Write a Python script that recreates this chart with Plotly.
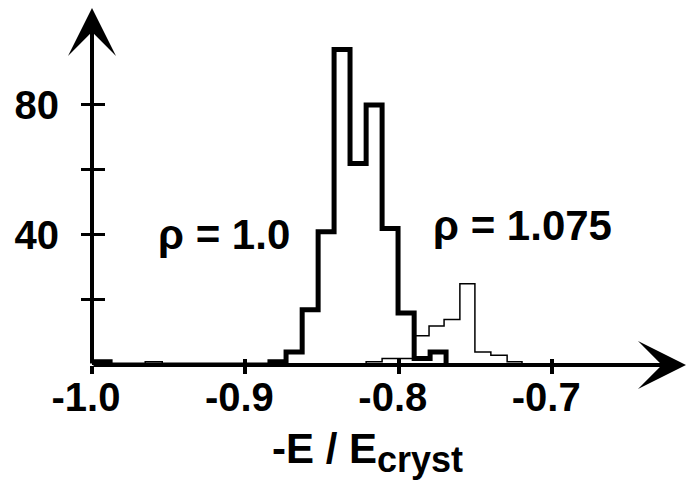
import plotly.graph_objects as go

# rho = 1.0 histogram: bin edges (left edges plus the last right edge) and counts per bin
dense_edges = [-0.9985, -0.9882, -0.8840, -0.8735, -0.8630, -0.8526, -0.8422,
               -0.8318, -0.8213, -0.8109, -0.8005, -0.7900, -0.7796, -0.7692]
dense_counts = [1, 0, 1, 4, 17, 41, 97, 62, 80, 42, 16, 2, 4]

# rho = 1.075 histogram
loose_edges = [-0.9653, -0.9542, -0.8213, -0.8109, -0.8005, -0.7900, -0.7803,
               -0.7705, -0.7602, -0.7504, -0.7400, -0.7294, -0.7197]
loose_counts = [1, 0, 1, 2, 2, 9, 12, 14, 25, 4, 3, 1]

x_tick_vals = [-1.0, -0.9, -0.8, -0.7]
x_tick_text = ["-1.0", "-0.9", "-0.8", "-0.7"]
y_tick_vals = [20, 40, 60, 80]
y_tick_text = ["", "40", "", "80"]

X_RANGE = [-1.0, -0.6128]
Y_RANGE = [0, 109.8]
FONT = "Liberation Sans"


def step_outline(edges, counts):
    xs = [edges[0]] + list(edges)
    ys = [0] + list(counts) + [0]
    return xs, ys


fig = go.Figure()

lx, ly = step_outline(loose_edges, loose_counts)
fig.add_trace(go.Scatter(x=lx, y=ly, mode="lines", line=dict(color="black", width=1.5, shape="hv"),
                         showlegend=False, hoverinfo="skip", cliponaxis=False))

dx, dy = step_outline(dense_edges, dense_counts)
fig.add_trace(go.Scatter(x=dx, y=dy, mode="lines", line=dict(color="black", width=5, shape="hv"),
                         showlegend=False, hoverinfo="skip", cliponaxis=False))

# empty trace so the overlay axes (inner half of the crossing ticks) get drawn
fig.add_trace(go.Scatter(x=[], y=[], xaxis="x2", yaxis="y2", showlegend=False))

tickfont = dict(family=FONT, size=40, color="black", weight="bold")
common = dict(showgrid=False, zeroline=False, showline=False, tickcolor="black")

fig.update_layout(
    width=688, height=492,
    margin=dict(l=92, r=2, t=8, b=127),
    paper_bgcolor="white", plot_bgcolor="white",
    xaxis=dict(range=X_RANGE, tickvals=x_tick_vals, ticktext=x_tick_text, ticks="outside",
               ticklen=8, tickwidth=4, tickfont=tickfont, ticklabelstandoff=-11,
               ticklabelshift=-6, **common),
    yaxis=dict(range=Y_RANGE, tickvals=y_tick_vals, ticktext=y_tick_text, ticks="outside",
               ticklen=10, tickwidth=3, tickfont=tickfont, ticklabelstandoff=14, **common),
    xaxis2=dict(range=X_RANGE, overlaying="x", anchor="y", side="bottom", tickvals=x_tick_vals,
                ticks="inside", ticklen=6, tickwidth=4, showticklabels=False, **common),
    yaxis2=dict(range=Y_RANGE, overlaying="y", anchor="x", side="left", tickvals=y_tick_vals,
                ticks="inside", ticklen=13, tickwidth=3, showticklabels=False, **common),
)

labelfont = dict(family=FONT, size=42, color="black", weight="bold")
annotations = [
    # axis lines with arrowheads
    dict(xref="paper", yref="y", x=1.0, y=0, ax=-594, ay=0, text="", showarrow=True,
         arrowhead=3, arrowsize=2, arrowwidth=4, arrowcolor="black"),
    dict(xref="paper", yref="paper", x=0.0, y=1.0, ax=0, ay=357, text="", showarrow=True,
         arrowhead=3, arrowsize=2, arrowwidth=4, arrowcolor="black"),
    # series labels
    dict(xref="x", yref="y", x=-0.914, y=40, text="\u03c1 = 1.0", showarrow=False,
         font=labelfont, xanchor="center", yanchor="middle"),
    dict(xref="x", yref="y", x=-0.7197, y=43, text="\u03c1 = 1.075", showarrow=False,
         font=labelfont, xanchor="center", yanchor="middle"),
    # axis title
    dict(xref="paper", yref="paper", x=0.463, y=-0.245,
         text="-E / E<sub><span style='font-size:36px'>cryst</span></sub>",
         showarrow=False, font=labelfont, xanchor="center", yanchor="middle"),
]
fig.update_layout(annotations=annotations)

fig.write_html("out.html")
